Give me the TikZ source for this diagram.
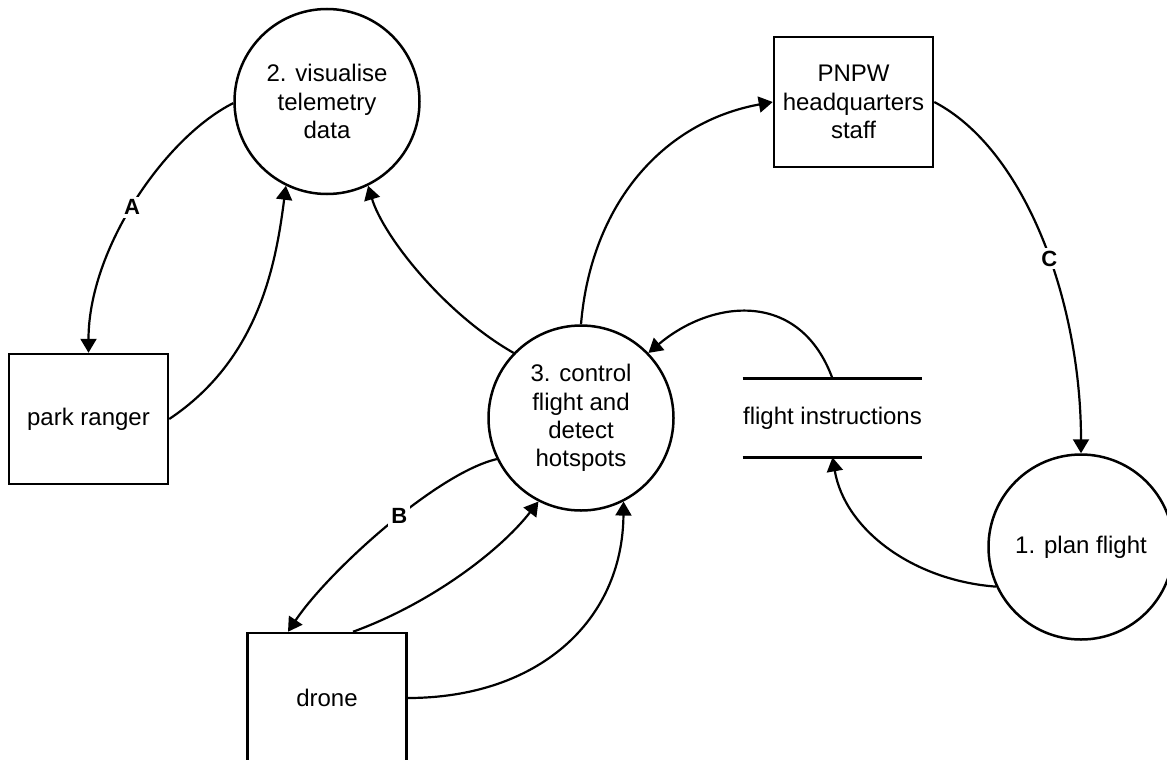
\documentclass[tikz,border=0pt]{standalone}
\usepackage{fontspec}
\setmainfont{Liberation Sans}
\usetikzlibrary{arrows.meta}

\begin{document}
\begin{tikzpicture}[x=0.5pt, y=-0.5pt,
    process/.style={circle, draw, line width=1.25pt, minimum size=92.5pt, inner sep=0pt, align=center, font=\fontsize{12}{14.2}\selectfont},
    entity/.style={rectangle, draw, line width=1.25pt, minimum width=79.5pt, minimum height=65pt, inner sep=0pt, align=center, font=\fontsize{12}{14.2}\selectfont},
    store/.style={minimum width=83.5pt, minimum height=39pt, inner sep=0pt, font=\fontsize{12}{14.2}\selectfont},
    flow/.style={line width=1.1pt, -{Triangle[length=7pt, width=8pt]}},
    flowlabel/.style={fill=white, inner sep=1.5pt, font=\fontsize{11}{13}\selectfont\bfseries}]
    \path[use as bounding box, clip] (0,0) rectangle (1167,760);

    % Processes
    \node[process] (visualise) at (327,101.5) {2. visualise\\telemetry\\data};
    \node[process] (control) at (581,418) {3. control\\flight and\\detect\\hotspots};
    \node[process] (plan) at (1081,547) {1. plan flight};

    % External entities
    \node[entity] (ranger) at (88.5,419) {park ranger};
    \node[entity] (hq) at (853.5,102) {PNPW\\headquarters\\staff};
    \node[entity] (drone) at (327,698) {drone};

    % Data store
    \node[store] (instructions) at (832.5,418) {flight instructions};
    \draw[line width=1.25pt] (instructions.north west) -- (instructions.north east);
    \draw[line width=1.25pt] (instructions.south west) -- (instructions.south east);

    % Data flows
    \draw[flow] (visualise.181) .. controls +(-68,34) and +(0,-104) .. (ranger.north)
        node[flowlabel, pos=0.52] {A};
    \draw[flow] (ranger.east) .. controls +(90,-60) and +(-10,78) .. (visualise.244);
    \draw[flow] (control.136) .. controls +(-70,-40) and +(15,50) .. (visualise.296);
    \draw[flow] (control.north) .. controls +(10,-120) and +(-110,20) .. (hq.west);
    \draw[flow] (hq.east) .. controls +(92,48) and +(0,-150) .. (plan.north)
        node[flowlabel, pos=0.55] {C};
    \draw[flow] (instructions.north) .. controls +(-32.5,-89) and +(64,-54) .. (control.44);
    \draw[flow] (plan.205) .. controls +(-82,-6) and +(12.5,73) .. (instructions.south);
    \draw[flow] (control.206) .. controls +(-60,14) and +(40,-60) .. ([xshift=-19.5pt]drone.north)
        node[flowlabel, pos=0.44] {B};
    \draw[flow] ([xshift=13pt]drone.north) .. controls +(77,-28) and +(-39,50) .. (control.243);
    \draw[flow] (drone.east) .. controls +(130,0) and +(-1,120) .. (control.297);
\end{tikzpicture}
\end{document}
